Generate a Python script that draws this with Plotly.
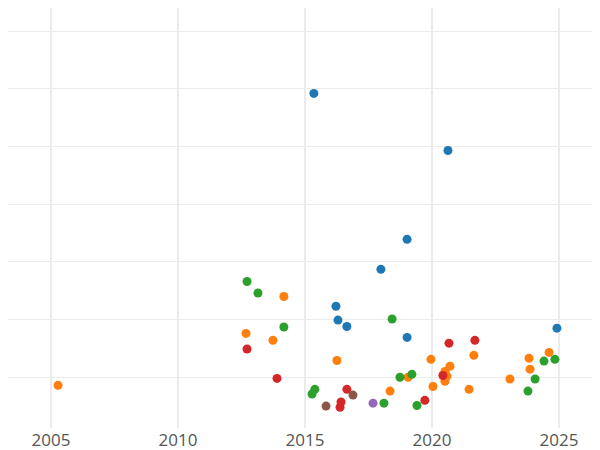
import plotly.graph_objects as go

blue_x = [2015.35, 2020.63, 2019.02, 2017.99, 2016.22, 2016.30, 2016.65, 2019.02, 2024.92]
blue_y = [5.92, 4.93, 3.39, 2.87, 2.23, 1.99, 1.88, 1.69, 1.85]
orange_x = [2005.28, 2014.17, 2012.68, 2013.74, 2016.26, 2019.96, 2021.65, 2023.82, 2024.61, 2023.86,
            2020.71, 2020.51, 2020.59, 2019.06, 2020.51, 2020.04, 2023.07, 2021.46, 2018.35]
orange_y = [0.86, 2.40, 1.76, 1.64, 1.29, 1.31, 1.38, 1.33, 1.43, 1.14,
            1.19, 1.10, 1.02, 1.00, 0.93, 0.84, 0.97, 0.79, 0.76]
green_x = [2012.72, 2013.15, 2014.17, 2018.43, 2018.74, 2019.21, 2015.39, 2015.28, 2018.11, 2019.41,
           2024.41, 2024.84, 2024.06, 2023.78]
green_y = [2.66, 2.46, 1.87, 2.01, 1.00, 1.05, 0.79, 0.71, 0.55, 0.51, 1.28, 1.31, 0.97, 0.76]
red_x = [2012.72, 2013.90, 2020.67, 2021.69, 2020.43, 2019.72, 2016.42, 2016.38, 2016.65]
red_y = [1.49, 0.98, 1.59, 1.64, 1.03, 0.60, 0.57, 0.48, 0.79]
brown_x = [2015.83, 2016.89]
brown_y = [0.50, 0.69]
purple_x = [2017.68]
purple_y = [0.55]

series = [
    (blue_x, blue_y, "#1f77b4"),
    (orange_x, orange_y, "#ff7f0e"),
    (green_x, green_y, "#2ca02c"),
    (red_x, red_y, "#d62728"),
    (purple_x, purple_y, "#9467bd"),
    (brown_x, brown_y, "#8c564b"),
]

fig = go.Figure()
for xs, ys, c in series:
    fig.add_trace(go.Scatter(x=xs, y=ys, mode="markers",
                             marker=dict(color=c, size=9), showlegend=False))

fig.update_layout(
    width=600, height=450,
    margin=dict(l=0, r=0, t=0, b=30, autoexpand=False),
    plot_bgcolor="white", paper_bgcolor="white",
    font=dict(family="Open Sans", size=17, color="#555"),
)
fig.update_xaxes(range=[2003.31, 2026.93], tickvals=[2005, 2010, 2015, 2020, 2025],
                 showgrid=True, gridcolor="#ebebeb", gridwidth=2, zeroline=False, showline=False,
                 automargin=False)
fig.update_yaxes(range=[0.12, 7.4], dtick=1, tick0=0, showticklabels=False,
                 showgrid=True, gridcolor="#ebebeb", gridwidth=1, zeroline=False, showline=False,
                 automargin=False)
fig.write_html("out.html")
